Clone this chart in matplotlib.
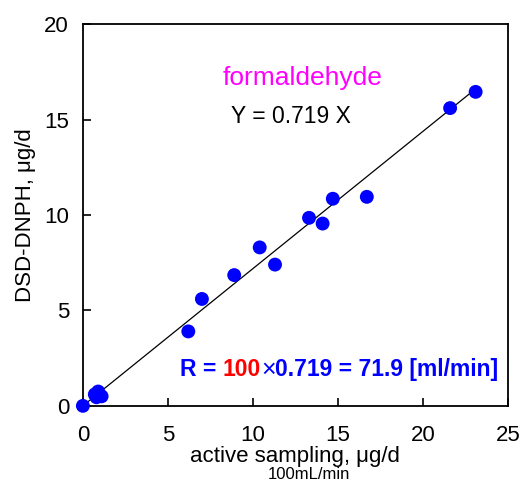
import numpy as np
import matplotlib.pyplot as plt

plt.rcParams['font.family'] = ['Liberation Sans', 'DejaVu Sans']

# active sampling vs DSD-DNPH, ug/d
active = [0.0, 0.7, 0.9, 1.1, 0.8, 6.2, 7.0, 8.9, 10.4, 11.3, 13.3, 14.1, 14.7, 16.7, 21.6, 23.1]
dsd = [0.0, 0.6, 0.75, 0.5, 0.45, 3.9, 5.6, 6.85, 8.3, 7.4, 9.85, 9.55, 10.85, 10.95, 15.6, 16.45]
slope = 0.719
fit_x = [0.0, 23.1]

fig = plt.figure(figsize=(5.28, 4.82), dpi=100)
ax = fig.add_axes([0.157, 0.158, 0.805, 0.792])

ax.plot(fit_x, [slope * v for v in fit_x], color='black', lw=0.9, zorder=2)
ax.scatter(active, dsd, s=100, color='#0000ff', edgecolors='none', zorder=3, clip_on=False)

ax.set_xlim(0, 25)
ax.set_ylim(0, 20)
ax.set_xticks([0, 5, 10, 15, 20, 25])
ax.set_yticks([0, 5, 10, 15, 20])
ax.tick_params(direction='in', length=6, width=1.2, labelsize=16)
ax.tick_params(axis='x', pad=14)
ax.tick_params(axis='y', pad=10)
for sp in ax.spines.values():
    sp.set_linewidth(1.3)

ax.set_xlabel('active sampling, μg/d', fontsize=16, labelpad=0)
ax.set_ylabel('DSD-DNPH, μg/d', fontsize=16, labelpad=6)
fig.text(0.586, 0.0, '100mL/min', fontsize=12, ha='center', va='bottom')

ax.text(0.517, 0.86, 'formaldehyde', transform=ax.transAxes, color='#ff00ff',
        fontsize=19, ha='center', va='center')
ax.text(0.49, 0.757, 'Y = 0.719 X', transform=ax.transAxes, color='black',
        fontsize=16.5, ha='center', va='center')

# R = 100 x 0.719 = 71.9 [ml/min]
t1 = ax.text(0.228, 0.095, 'R = ', transform=ax.transAxes, color='#0000ff',
             fontsize=16.5, fontweight='bold', va='center')
t2 = ax.annotate('100', xy=(1, 0.5), xycoords=t1, va='center', color='#ff0000',
                 fontsize=16.5, fontweight='bold')
t3 = ax.annotate('×', xy=(1, 0.5), xycoords=t2, va='center', color='#0000ff',
                 fontsize=18)
ax.annotate('0.719 = 71.9 [ml/min]', xy=(1, 0.5), xycoords=t3, va='center',
            color='#0000ff', fontsize=16.5, fontweight='bold')

fig.savefig('out.png', dpi=100)
